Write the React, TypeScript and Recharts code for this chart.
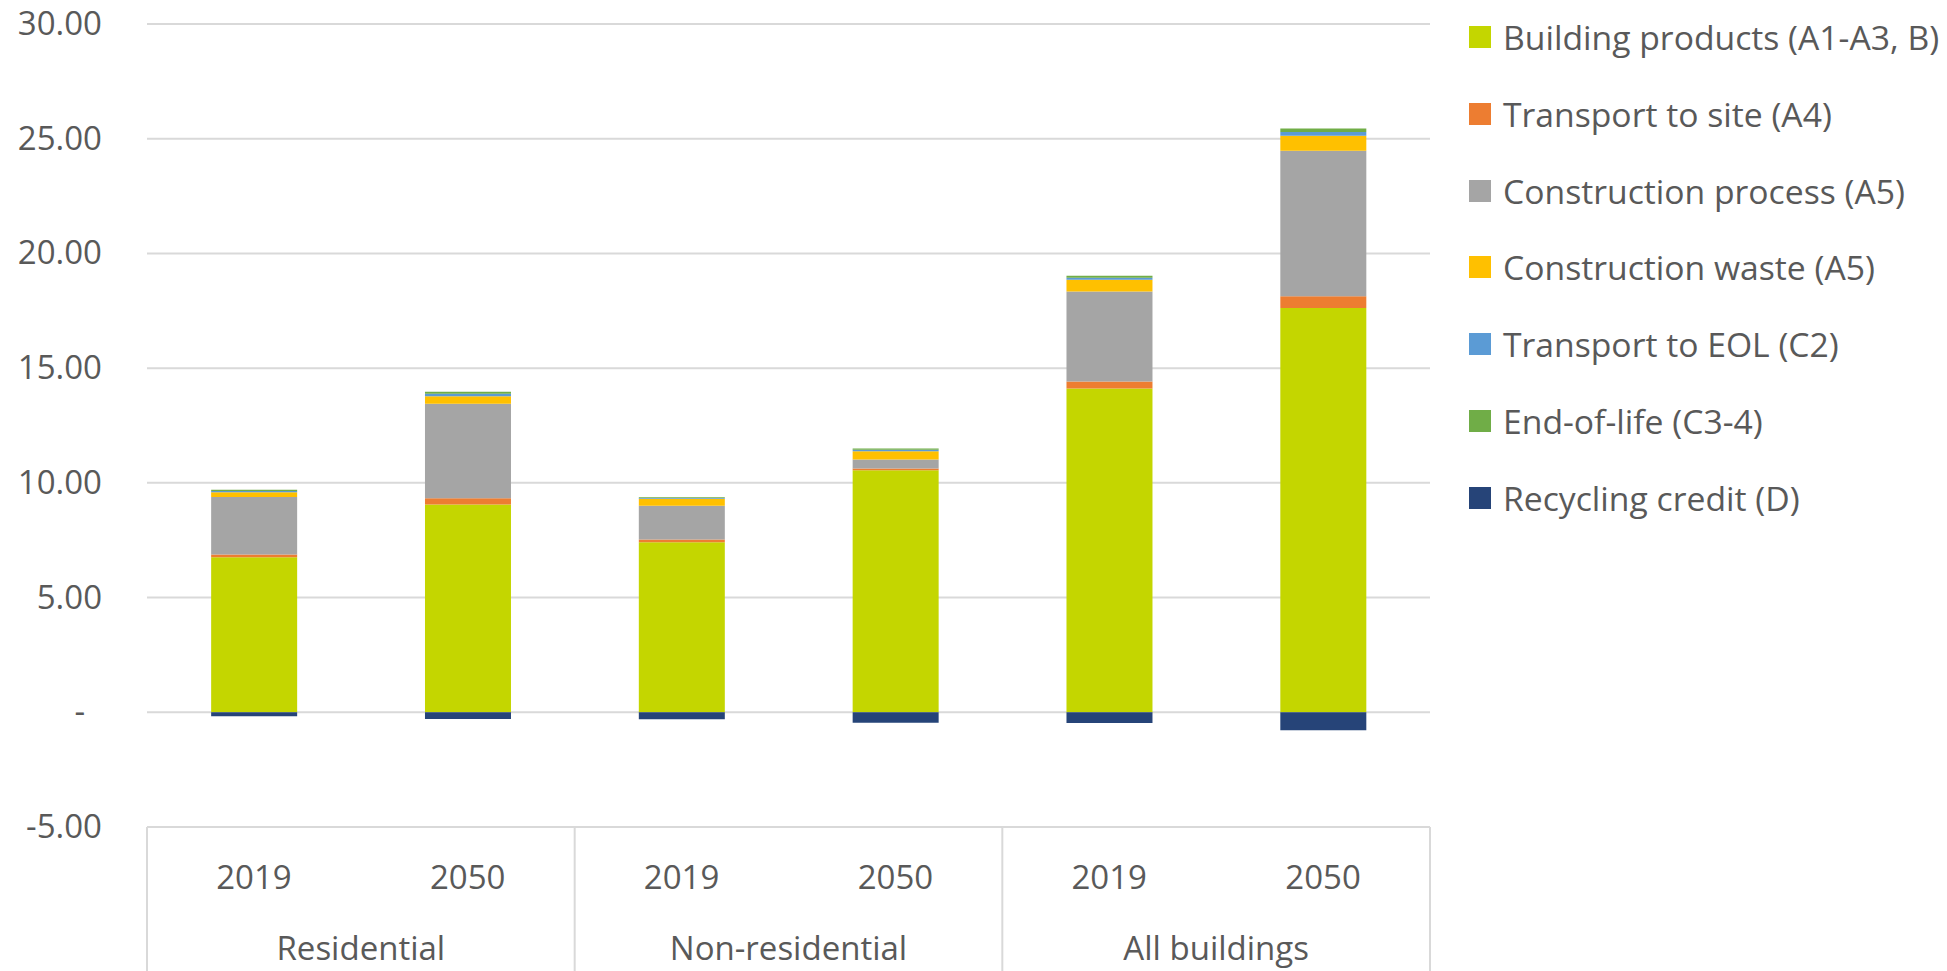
import React from 'react';
import { BarChart, Bar, XAxis, YAxis, CartesianGrid } from 'recharts';

const years = ['2019', '2050', '2019', '2050', '2019', '2050'];
const groups = ['Residential', 'Non-residential', 'All buildings'];

const buildingProducts = [6.76, 9.06, 7.41, 10.55, 14.11, 17.62];
const transportSite = [0.12, 0.27, 0.12, 0.08, 0.31, 0.51];
const constructionProcess = [2.5, 4.12, 1.47, 0.39, 3.92, 6.35];
const constructionWaste = [0.21, 0.33, 0.31, 0.36, 0.51, 0.65];
const transportEol = [0.05, 0.1, 0.03, 0.06, 0.09, 0.16];
const endOfLife = [0.06, 0.09, 0.03, 0.06, 0.09, 0.16];
const recyclingCredit = [-0.17, -0.29, -0.3, -0.46, -0.47, -0.78];

const yTicks = [-5, 0, 5, 10, 15, 20, 25, 30];

const series = [
  { key: 'products', name: 'Building products (A1-A3, B)', color: '#c4d600', values: buildingProducts },
  { key: 'site', name: 'Transport to site (A4)', color: '#ed7d31', values: transportSite },
  { key: 'process', name: 'Construction process (A5)', color: '#a5a5a5', values: constructionProcess },
  { key: 'waste', name: 'Construction waste (A5)', color: '#ffc000', values: constructionWaste },
  { key: 'eol', name: 'Transport to EOL (C2)', color: '#5b9bd5', values: transportEol },
  { key: 'endlife', name: 'End-of-life (C3-4)', color: '#70ad47', values: endOfLife },
  { key: 'recycling', name: 'Recycling credit (D)', color: '#264478', values: recyclingCredit },
];

const data = years.map((y, i) => {
  const row: any = { id: i, year: y, group: groups[Math.floor(i / 2)] };
  series.forEach((s) => (row[s.key] = s.values[i]));
  return row;
});

const W = 1947;
const H = 971;
const LEFT = 147;
const RIGHT = 1430;
const TOP = 24;
const XAXIS_H = 144;
const BAND = (RIGHT - LEFT) / years.length;
const FONT = '"Open Sans", sans-serif';
const TEXT = '#595959';
const GRID = '#d9d9d9';

const YTick = (props: any) => {
  const { x, y, payload } = props;
  const v = payload.value;
  return (
    <text x={v === 0 ? x - 17 : x} y={y + 11} textAnchor="end" fill={TEXT} fontSize={33} fontFamily={FONT}>
      {v === 0 ? '-' : v.toFixed(2)}
    </text>
  );
};

// year under each bar, group name + dividers under each pair
const XTick = (props: any) => {
  const { x, y, payload, index } = props;
  const i = index ?? payload.index ?? 0;
  return (
    <g>
      <text x={x} y={y + 62} textAnchor="middle" fill={TEXT} fontSize={33} fontFamily={FONT}>
        {payload.value}
      </text>
      {i % 2 === 0 && (
        <>
          <line x1={x - BAND / 2} x2={x - BAND / 2} y1={y} y2={y + XAXIS_H} stroke={GRID} strokeWidth={2} />
          <text x={x + BAND / 2} y={y + 133} textAnchor="middle" fill={TEXT} fontSize={33} fontFamily={FONT}>
            {groups[i / 2]}
          </text>
        </>
      )}
      {i === years.length - 1 && (
        <line x1={x + BAND / 2} x2={x + BAND / 2} y1={y} y2={y + XAXIS_H} stroke={GRID} strokeWidth={2} />
      )}
    </g>
  );
};

export default function App() {
  return (
    <div style={{ position: 'absolute', left: 0, top: 0, width: W, height: H, background: '#fff', fontFamily: FONT }}>
      <BarChart
        width={W}
        height={H}
        data={data}
        stackOffset="sign"
        barCategoryGap="30%"
        margin={{ top: TOP, right: W - RIGHT, bottom: 0, left: 0 }}
      >
        <CartesianGrid horizontal vertical={false} stroke={GRID} strokeWidth={2} />
        <XAxis
          dataKey="id"
          tick={(p: any) => <XTick {...p} payload={{ ...p.payload, value: years[p.payload.value] }} />}
          axisLine={false}
          tickLine={false}
          tickSize={0}
          tickMargin={0}
          height={XAXIS_H}
          interval={0}
        />
        <YAxis
          domain={[-5, 30]}
          ticks={yTicks}
          width={LEFT}
          axisLine={false}
          tickLine={false}
          tickSize={0}
          tickMargin={45}
          tick={<YTick />}
          interval={0}
        />
        {series.map((s) => (
          <Bar key={s.key} dataKey={s.key} name={s.name} stackId="a" fill={s.color} isAnimationActive={false} />
        ))}
      </BarChart>
      {series.map((s, i) => (
        <div
          key={s.key}
          style={{
            position: 'absolute',
            left: 1469,
            top: 37 + i * 76.8 - 25,
            height: 50,
            display: 'flex',
            alignItems: 'center',
            whiteSpace: 'nowrap',
          }}
        >
          <div style={{ width: 22, height: 22, background: s.color, marginRight: 12 }} />
          <span style={{ fontSize: 33.7, color: TEXT, fontFamily: FONT, lineHeight: '50px' }}>{s.name}</span>
        </div>
      ))}
    </div>
  );
}
